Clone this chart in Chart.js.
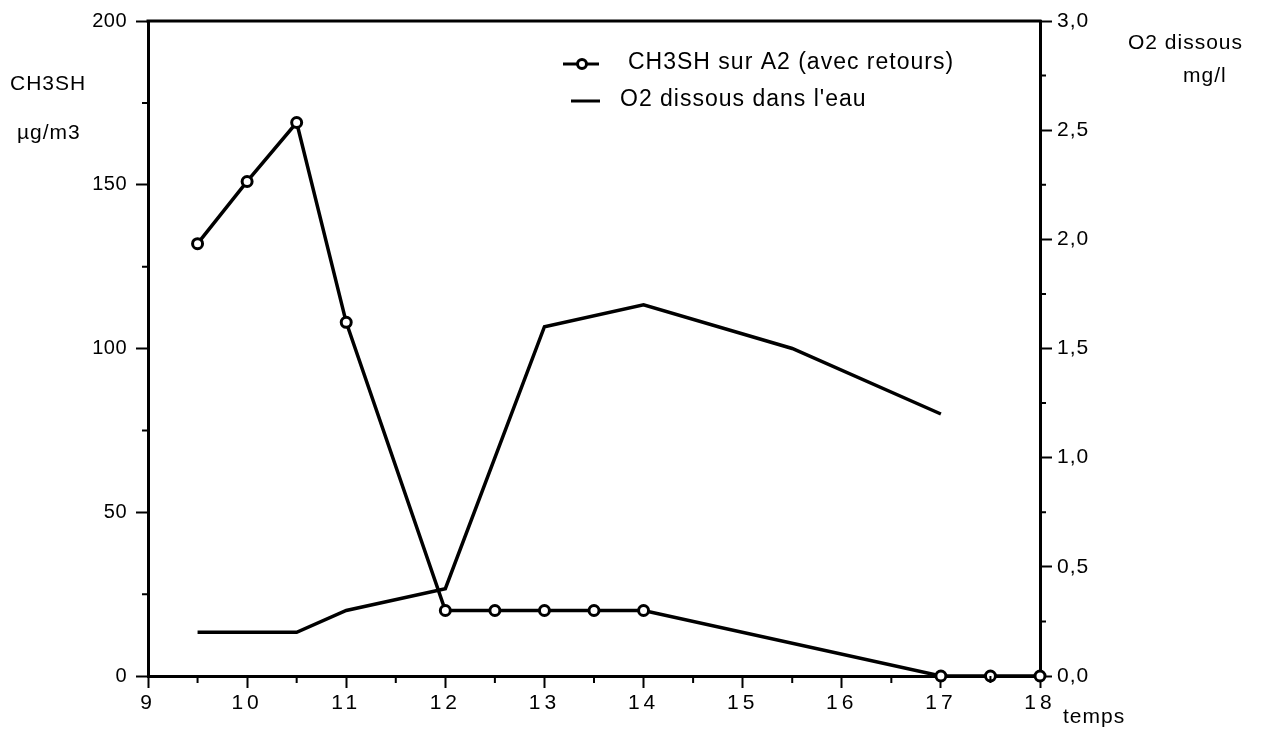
<!DOCTYPE html>
<html>
<head>
<meta charset="utf-8">
<script src="https://cdn.jsdelivr.net/npm/chart.js@4"></script>
<style>
  html, body { margin: 0; padding: 0; background: #fff; }
  #wrap { width: 1276px; height: 737px; position: relative; }
</style>
</head>
<body>
<div id="wrap"><canvas id="c"></canvas></div>
<script>
// CH3SH (left axis, µg/m3)
const ch3shHours = [9.5, 10, 10.5, 11, 12, 12.5, 13, 13.5, 14, 17, 17.5, 18];
const ch3shValues = [132, 151, 169, 108, 20, 20, 20, 20, 20, 0, 0, 0];

// O2 dissous (right axis, mg/l)
const o2Hours = [9.5, 10.5, 11, 12, 13, 14, 15.5, 17];
const o2Values = [0.2, 0.2, 0.3, 0.4, 1.6, 1.7, 1.5, 1.2];

const seriesLabels = ['CH3SH sur A2 (avec retours)', "O2 dissous dans l'eau"];

const FONT = '"Liberation Sans", Arial, Helvetica, sans-serif';

function pairs(xs, ys) {
    return xs.map((x, i) => ({ x: x, y: ys[i] }));
}

// the scanned tick labels are letter-spaced, each axis a bit differently
const labelSpacing = { x: '4px', y: '0.5px', y1: '1px' };
const spacing = {
    id: 'spacing',
    afterLayout(chart) {
        Object.keys(labelSpacing).forEach(id => {
            const scale = chart.scales[id];
            if (!scale || scale._spaced) return;
            const orig = scale.drawLabels;
            scale.drawLabels = function (area) {
                this.ctx.save();
                this.ctx.letterSpacing = labelSpacing[id];
                orig.call(this, area);
                this.ctx.restore();
            };
            scale._spaced = true;
        });
    }
};

// minor ticks, frame top, axis titles and legend
const decorations = {
    id: 'decorations',
    afterDraw(chart) {
        const ctx = chart.ctx;
        const area = chart.chartArea;
        const sx = chart.scales.x, sy = chart.scales.y, sy1 = chart.scales.y1;
        ctx.save();
        ctx.strokeStyle = '#000';
        ctx.lineWidth = 2;

        ctx.beginPath();
        for (let v = 25; v < 200; v += 50) {
            const p = sy.getPixelForValue(v);
            ctx.moveTo(area.left - 6, p); ctx.lineTo(area.left, p);
        }
        for (let v = 0.25; v < 3; v += 0.5) {
            const p = sy1.getPixelForValue(v);
            ctx.moveTo(area.right, p); ctx.lineTo(area.right + 6, p);
        }
        for (let v = 9.5; v < 18; v += 1) {
            const p = sx.getPixelForValue(v);
            ctx.moveTo(p, area.bottom); ctx.lineTo(p, area.bottom + 7);
        }
        ctx.stroke();

        ctx.lineWidth = 3;
        ctx.beginPath();
        ctx.moveTo(area.left - 1.5, area.top);
        ctx.lineTo(area.right + 1.5, area.top);
        ctx.stroke();

        ctx.fillStyle = '#000';
        ctx.font = '21px ' + FONT;
        ctx.letterSpacing = '1px';
        ctx.textBaseline = 'middle';
        ctx.textAlign = 'left';
        ctx.fillText('CH3SH', 10, 84);
        ctx.fillText('\u00b5g/m3', 17, 133);
        ctx.fillText('O2 dissous', 1128, 43);
        ctx.fillText('mg/l', 1183, 76);
        ctx.fillText('temps', 1063, 717);

        // legend
        ctx.font = '23px ' + FONT;
        ctx.letterSpacing = '1px';
        ctx.fillText(seriesLabels[0], 628, 63);
        ctx.fillText(seriesLabels[1], 620, 100);
        ctx.lineWidth = 3;
        ctx.beginPath();
        ctx.moveTo(563, 64); ctx.lineTo(599, 64);
        ctx.moveTo(571, 101); ctx.lineTo(600, 101);
        ctx.stroke();
        ctx.beginPath();
        ctx.arc(582, 64, 4.5, 0, Math.PI * 2);
        ctx.fillStyle = '#fff';
        ctx.fill();
        ctx.lineWidth = 3;
        ctx.stroke();
        ctx.restore();
    }
};

new Chart(document.getElementById('c').getContext('2d'), {
    type: 'line',
    data: {
        datasets: [
            {
                label: seriesLabels[0],
                data: pairs(ch3shHours, ch3shValues),
                yAxisID: 'y',
                borderColor: '#000',
                borderWidth: 3.5,
                pointStyle: 'circle',
                pointRadius: 5,
                pointBorderWidth: 3,
                pointBackgroundColor: '#fff',
                pointBorderColor: '#000',
                tension: 0,
                clip: false,
                order: 0
            },
            {
                label: seriesLabels[1],
                data: pairs(o2Hours, o2Values),
                yAxisID: 'y1',
                borderColor: '#000',
                borderWidth: 3.5,
                pointRadius: 0,
                tension: 0,
                clip: false,
                order: 1
            }
        ]
    },
    options: {
        responsive: true,
        maintainAspectRatio: false,
        animation: false,
        layout: { padding: { top: 20 } },
        plugins: { legend: { display: false }, tooltip: { enabled: false } },
        scales: {
            x: {
                type: 'linear',
                min: 9, max: 18,
                afterFit: s => { s.height = 61; },
                ticks: { stepSize: 1, color: '#000', font: { family: FONT, size: 21 }, padding: 3, maxRotation: 0 },
                grid: { drawOnChartArea: false, tickLength: 12, tickWidth: 2, tickColor: '#000' },
                border: { color: '#000', width: 3 }
            },
            y: {
                position: 'left',
                min: 0, max: 200,
                afterFit: s => { s.width = 148; },
                ticks: { stepSize: 50, color: '#000', font: { family: FONT, size: 20 }, padding: 9 },
                grid: { drawOnChartArea: false, tickLength: 12, tickWidth: 2, tickColor: '#000' },
                border: { color: '#000', width: 3 }
            },
            y1: {
                position: 'right',
                min: 0, max: 3,
                afterFit: s => { s.width = 236; },
                ticks: {
                    stepSize: 0.5, color: '#000', font: { family: FONT, size: 21 }, padding: 5,
                    callback: v => v.toFixed(1).replace('.', ',')
                },
                grid: { drawOnChartArea: false, tickLength: 12, tickWidth: 2, tickColor: '#000' },
                border: { color: '#000', width: 3 }
            }
        }
    },
    plugins: [spacing, decorations]
});
</script>
</body>
</html>
